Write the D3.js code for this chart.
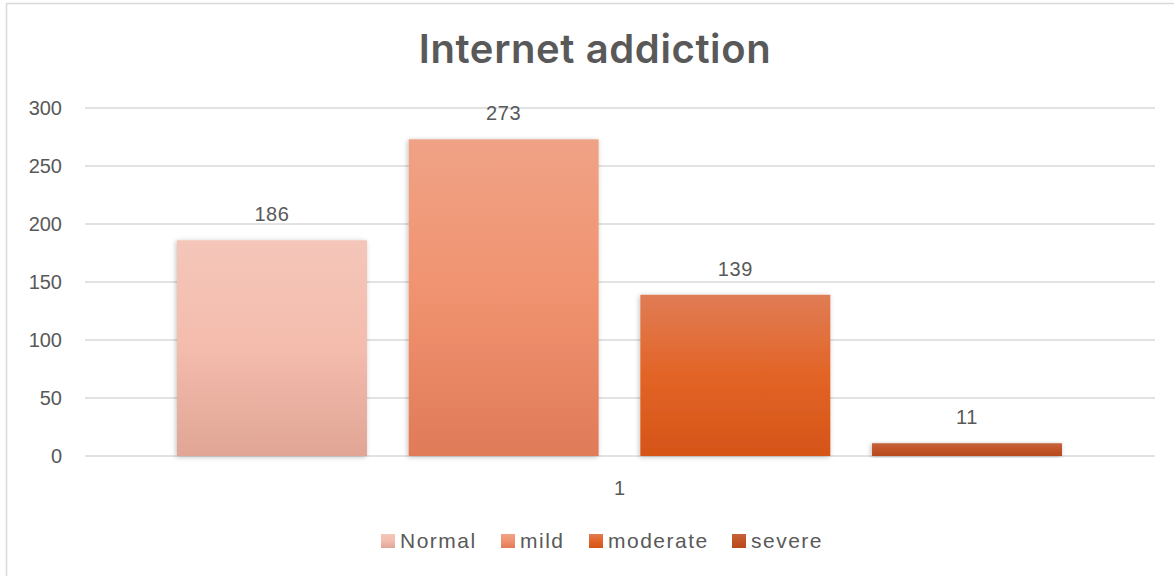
<!DOCTYPE html>
<html>
<head>
<meta charset="utf-8">
<script src="https://cdn.jsdelivr.net/npm/d3@7"></script>
<style>
  body { margin: 0; background: #fff; }
  svg { display: block; }
  text { font-family: "Liberation Sans", Arial, sans-serif; fill: #595959; }
</style>
</head>
<body>
<svg id="chart" width="1174" height="576"></svg>
<script>
// chart data
const categories = ["1"];
const seriesNames = ["Normal", "mild", "moderate", "severe"];
const seriesValues = [186, 273, 139, 11];
const yTicks = [0, 50, 100, 150, 200, 250, 300];

// gradient stops per series (top, middle, bottom)
const seriesColors = [
    ["#f4c6b9", "#f4bcad", "#e0a595"],
    ["#f0a286", "#f0926f", "#e07a58"],
    ["#e07c55", "#e26426", "#d55418"],
    ["#c4643c", "#c25426", "#b54a1f"]
];

const svg = d3.select("#chart");
const defs = svg.append("defs");

const plot = { left: 85, right: 1155, top: 108, bottom: 456 };

// outer chart border (extends past the picture on the right and bottom)
svg.append("rect")
    .attr("x", 6.5).attr("y", 3.5)
    .attr("width", 1200).attr("height", 600)
    .attr("fill", "none").attr("stroke", "#d9d9d9").attr("stroke-width", 1.5);

const y = d3.scaleLinear().domain([0, 300]).range([plot.bottom, plot.top]);

const x0 = d3.scaleBand().domain(categories).range([plot.left, plot.right]);
const x1 = d3.scaleBand().domain(seriesNames)
    .range([177, 1062])
    .paddingInner(0.18);

// gradients
seriesNames.forEach(function (name, i) {
    const g = defs.append("linearGradient")
        .attr("id", "grad" + i)
        .attr("x1", 0).attr("y1", 0).attr("x2", 0).attr("y2", 1);
    g.append("stop").attr("offset", "0%").attr("stop-color", seriesColors[i][0]);
    g.append("stop").attr("offset", "50%").attr("stop-color", seriesColors[i][1]);
    g.append("stop").attr("offset", "100%").attr("stop-color", seriesColors[i][2]);
});

const shadow = defs.append("filter").attr("id", "shadow")
    .attr("x", "-10%").attr("y", "-10%").attr("width", "120%").attr("height", "120%");
shadow.append("feDropShadow")
    .attr("dx", -1).attr("dy", 1).attr("stdDeviation", 2.5)
    .attr("flood-color", "#000").attr("flood-opacity", 0.25);

// gridlines
svg.append("g")
    .selectAll("line")
    .data(yTicks)
    .join("line")
    .attr("x1", plot.left).attr("x2", plot.right)
    .attr("y1", d => y(d)).attr("y2", d => y(d))
    .attr("stroke", "#d9d9d9").attr("stroke-width", 1.5);

// y tick labels
svg.append("g")
    .selectAll("text")
    .data(yTicks)
    .join("text")
    .attr("x", 62)
    .attr("y", d => y(d) + 7)
    .attr("text-anchor", "end")
    .style("font-size", "20px")
    .text(d => d);

// bars
const barsG = svg.append("g");
barsG.selectAll("rect")
    .data(seriesValues)
    .join("rect")
    .attr("x", (d, i) => x1(seriesNames[i]))
    .attr("y", d => y(d))
    .attr("width", x1.bandwidth())
    .attr("height", d => y(0) - y(d))
    .attr("fill", (d, i) => "url(#grad" + i + ")")
    .attr("filter", "url(#shadow)");

// data labels
svg.append("g")
    .selectAll("text")
    .data(seriesValues)
    .join("text")
    .attr("x", (d, i) => x1(seriesNames[i]) + x1.bandwidth() / 2)
    .attr("y", d => y(d) - 19)
    .attr("text-anchor", "middle")
    .style("font-size", "20px")
    .style("letter-spacing", "0.6px")
    .text(d => d);

// category label
svg.append("text")
    .attr("x", x0(categories[0]) + x0.bandwidth() / 2 - 0.5)
    .attr("y", 495)
    .attr("text-anchor", "middle")
    .style("font-size", "20px")
    .text(categories[0]);

// title
svg.append("text")
    .attr("x", 595)
    .attr("y", 63)
    .attr("text-anchor", "middle")
    .style("font-family", "Inter, 'Open Sans', sans-serif")
    .style("font-size", "40px")
    .style("font-weight", "600")
    .style("letter-spacing", "0.6px")
    .text("Internet addiction");

// legend
const legendX = [381, 501, 589, 732];
const legend = svg.append("g");
seriesNames.forEach(function (name, i) {
    legend.append("rect")
        .attr("x", legendX[i]).attr("y", 534)
        .attr("width", 14).attr("height", 14)
        .attr("fill", "url(#grad" + i + ")");
    legend.append("text")
        .attr("x", legendX[i] + 19)
        .attr("y", 548)
        .style("font-size", "21px")
        .style("letter-spacing", "1.5px")
        .text(name);
});
</script>
</body>
</html>
